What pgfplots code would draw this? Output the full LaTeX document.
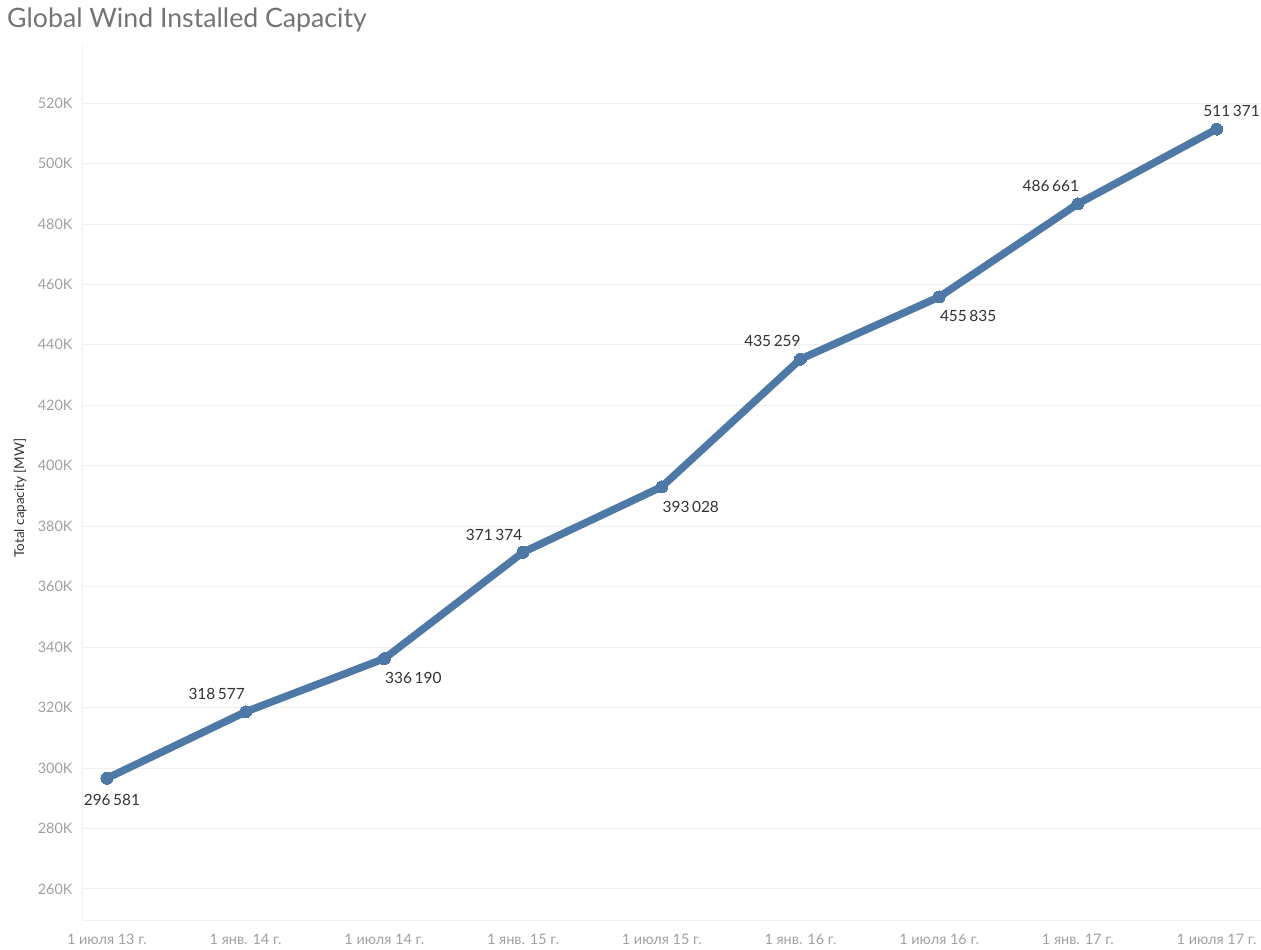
\documentclass[border=0pt]{standalone}
\usepackage{fontspec}
\setmainfont{Lato}
\usepackage{pgfplots}
\pgfplotsset{compat=1.18}
\usepackage{pgfplotstable}

\definecolor{linec}{HTML}{4E79A7}
\definecolor{gridc}{HTML}{F0F0F0}
\definecolor{tickc}{HTML}{A0A0A0}
\definecolor{titlec}{HTML}{747474}
\definecolor{labc}{HTML}{333333}

% capacity at each half-year date (MW)
\pgfplotstableread{
idx cap
0 296581
1 318577
2 336190
3 371374
4 393028
5 435259
6 455835
7 486661
8 511371
}\capdata

\begin{document}
\begin{tikzpicture}[x=1bp,y=1bp]
\path[use as bounding box] (0,0) rectangle (1261,950);
\node[anchor=base west, font=\fontsize{26.8}{30}\selectfont, text=titlec, inner sep=0pt] at (7,922) {Global Wind Installed Capacity};
\node[rotate=90, font=\fontsize{13.5}{15}\selectfont, text=labc, inner sep=0pt] at (20,452) {Total capacity [MW]};
\begin{axis}[
  at={(82bp,30bp)}, anchor=south west,
  scale only axis, width=1179bp, height=875bp,
  xmin=-0.18, xmax=8.32,
  ymin=249700, ymax=539200,
  scaled y ticks=false,
  axis line style={draw=gridc},
  axis x line*=bottom, axis y line*=left,
  tick style={draw=none},
  xtick={0,...,8},
  xticklabels={1 июля 13 г.,1 янв. 14 г.,1 июля 14 г.,1 янв. 15 г.,1 июля 15 г.,1 янв. 16 г.,1 июля 16 г.,1 янв. 17 г.,1 июля 17 г.},
  ytick={260000,280000,...,520000},
  yticklabels={260K,280K,300K,320K,340K,360K,380K,400K,420K,440K,460K,480K,500K,520K},
  ymajorgrids, major grid style={draw=gridc, line width=0.8bp},
  ticklabel style={font=\fontsize{14.5}{16}\selectfont, text=tickc},
  xticklabel style={yshift=-11bp},
  yticklabel style={xshift=-6bp},
  clip=false,
]
\addplot[color=linec, line width=7.5bp, line join=round, line cap=round,
  mark=*, mark size=6bp, mark options={fill=linec, draw=linec, line width=0pt}]
  table[x=idx, y=cap] {\capdata};
\tikzset{vl/.style={font=\fontsize{15.5}{17}\selectfont, text=labc, inner sep=0pt}}
\node[vl] at (axis cs:0,296581) [xshift=5bp, yshift=-22bp] {296\,581};
\node[vl] at (axis cs:1,318577) [xshift=-29bp, yshift=18bp] {318\,577};
\node[vl] at (axis cs:2,336190) [xshift=29bp, yshift=-19bp] {336\,190};
\node[vl] at (axis cs:3,371374) [xshift=-29bp, yshift=17bp] {371\,374};
\node[vl] at (axis cs:4,393028) [xshift=29bp, yshift=-20bp] {393\,028};
\node[vl] at (axis cs:5,435259) [xshift=-28bp, yshift=18bp] {435\,259};
\node[vl] at (axis cs:6,455835) [xshift=29bp, yshift=-19bp] {455\,835};
\node[vl] at (axis cs:7,486661) [xshift=-27bp, yshift=18bp] {486\,661};
\node[vl] at (axis cs:8,511371) [xshift=15bp, yshift=18bp] {511\,371};
\end{axis}
\end{tikzpicture}
\end{document}
